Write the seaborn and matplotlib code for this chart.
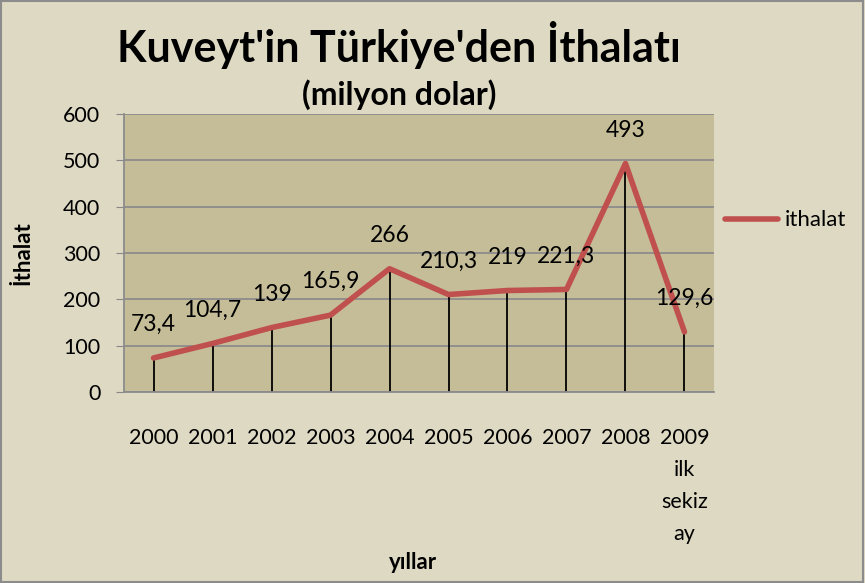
import numpy as np
import pandas as pd
import matplotlib
matplotlib.use("Agg")
import matplotlib.pyplot as plt
import seaborn as sns
from matplotlib.patches import Rectangle

# veriler
yillar = ["2000", "2001", "2002", "2003", "2004", "2005", "2006", "2007", "2008", "2009\nilk\nsekiz\nay"]
ithalat = [73.4, 104.7, 139, 165.9, 266, 210.3, 219, 221.3, 493, 129.6]
etiketler = ["73,4", "104,7", "139", "165,9", "266", "210,3", "219", "221,3", "493", "129,6"]
y_ticks = [0, 100, 200, 300, 400, 500, 600]

sns.set_style("white")
plt.rcParams["font.family"] = ["Lato", "DejaVu Sans"]
# tüm yazılar siyah
plt.rcParams.update({"text.color": "black", "axes.labelcolor": "black",
                     "xtick.color": "black", "ytick.color": "black"})

df = pd.DataFrame({"x": np.arange(len(yillar)), "ithalat": ithalat})

fig = plt.figure(figsize=(8.65, 5.83), dpi=100)
fig.patch.set_facecolor("#DDD9C3")
ax = fig.add_axes([0.1434, 0.3276, 0.682, 0.477])
ax.set_facecolor("#C4BD97")

# dikey çizgiler (drop lines)
ax.vlines(df["x"], 0, df["ithalat"], color="black", lw=1.3, zorder=2)

sns.lineplot(data=df, x="x", y="ithalat", color="#C0504D", lw=4, ax=ax,
             label="ithalat", zorder=3)

for xi, yi, t in zip(df["x"], ithalat, etiketler):
    ax.annotate(t, (xi, yi), xytext=(0, 24), textcoords="offset points",
                ha="center", va="center", fontsize=16.5, color="black")

ax.set_xlim(-0.5, len(yillar) - 0.5)
ax.set_ylim(0, 600)
ax.set_yticks(y_ticks)
ax.set_xticks(df["x"])
ax.set_xticklabels(yillar, fontsize=15.5, linespacing=1.75)
ax.tick_params(axis="x", length=0, pad=26)
ax.tick_params(axis="y", labelsize=15.5, length=6, color="#888888", pad=11, left=True)
ax.grid(axis="y", color="#8C8C8C", lw=1.3)
ax.set_axisbelow(True)
for s in ["top", "right"]:
    ax.spines[s].set_visible(False)
for s in ["left", "bottom"]:
    ax.spines[s].set_color("#8C8C8C")
    ax.spines[s].set_linewidth(1.3)

ax.set_xlabel("")
ax.set_ylabel("")
fig.text(0.026, 0.566, "İthalat", ha="center", va="center", rotation=90,
         fontsize=16, fontweight="bold")
fig.text(0.478, 0.035, "yıllar", ha="center", va="center", fontsize=16, fontweight="bold")

fig.text(0.461, 0.923, "Kuveyt'in Türkiye'den İthalatı", ha="center", va="center",
         fontsize=31, fontweight="bold")
fig.text(0.461, 0.837, "(milyon dolar)", ha="center", va="center",
         fontsize=23, fontweight="bold")

leg = ax.legend(loc="center left", bbox_to_anchor=(0.815, 0.622),
                bbox_transform=fig.transFigure, frameon=False, fontsize=16,
                handlelength=2.4, handletextpad=0.3)

fig.patches.append(Rectangle((0.001, 0.001), 0.997, 0.997, transform=fig.transFigure,
                             fill=False, edgecolor="#8C8C8C", lw=1.5))

fig.savefig("out.png", dpi=100, facecolor=fig.get_facecolor())
